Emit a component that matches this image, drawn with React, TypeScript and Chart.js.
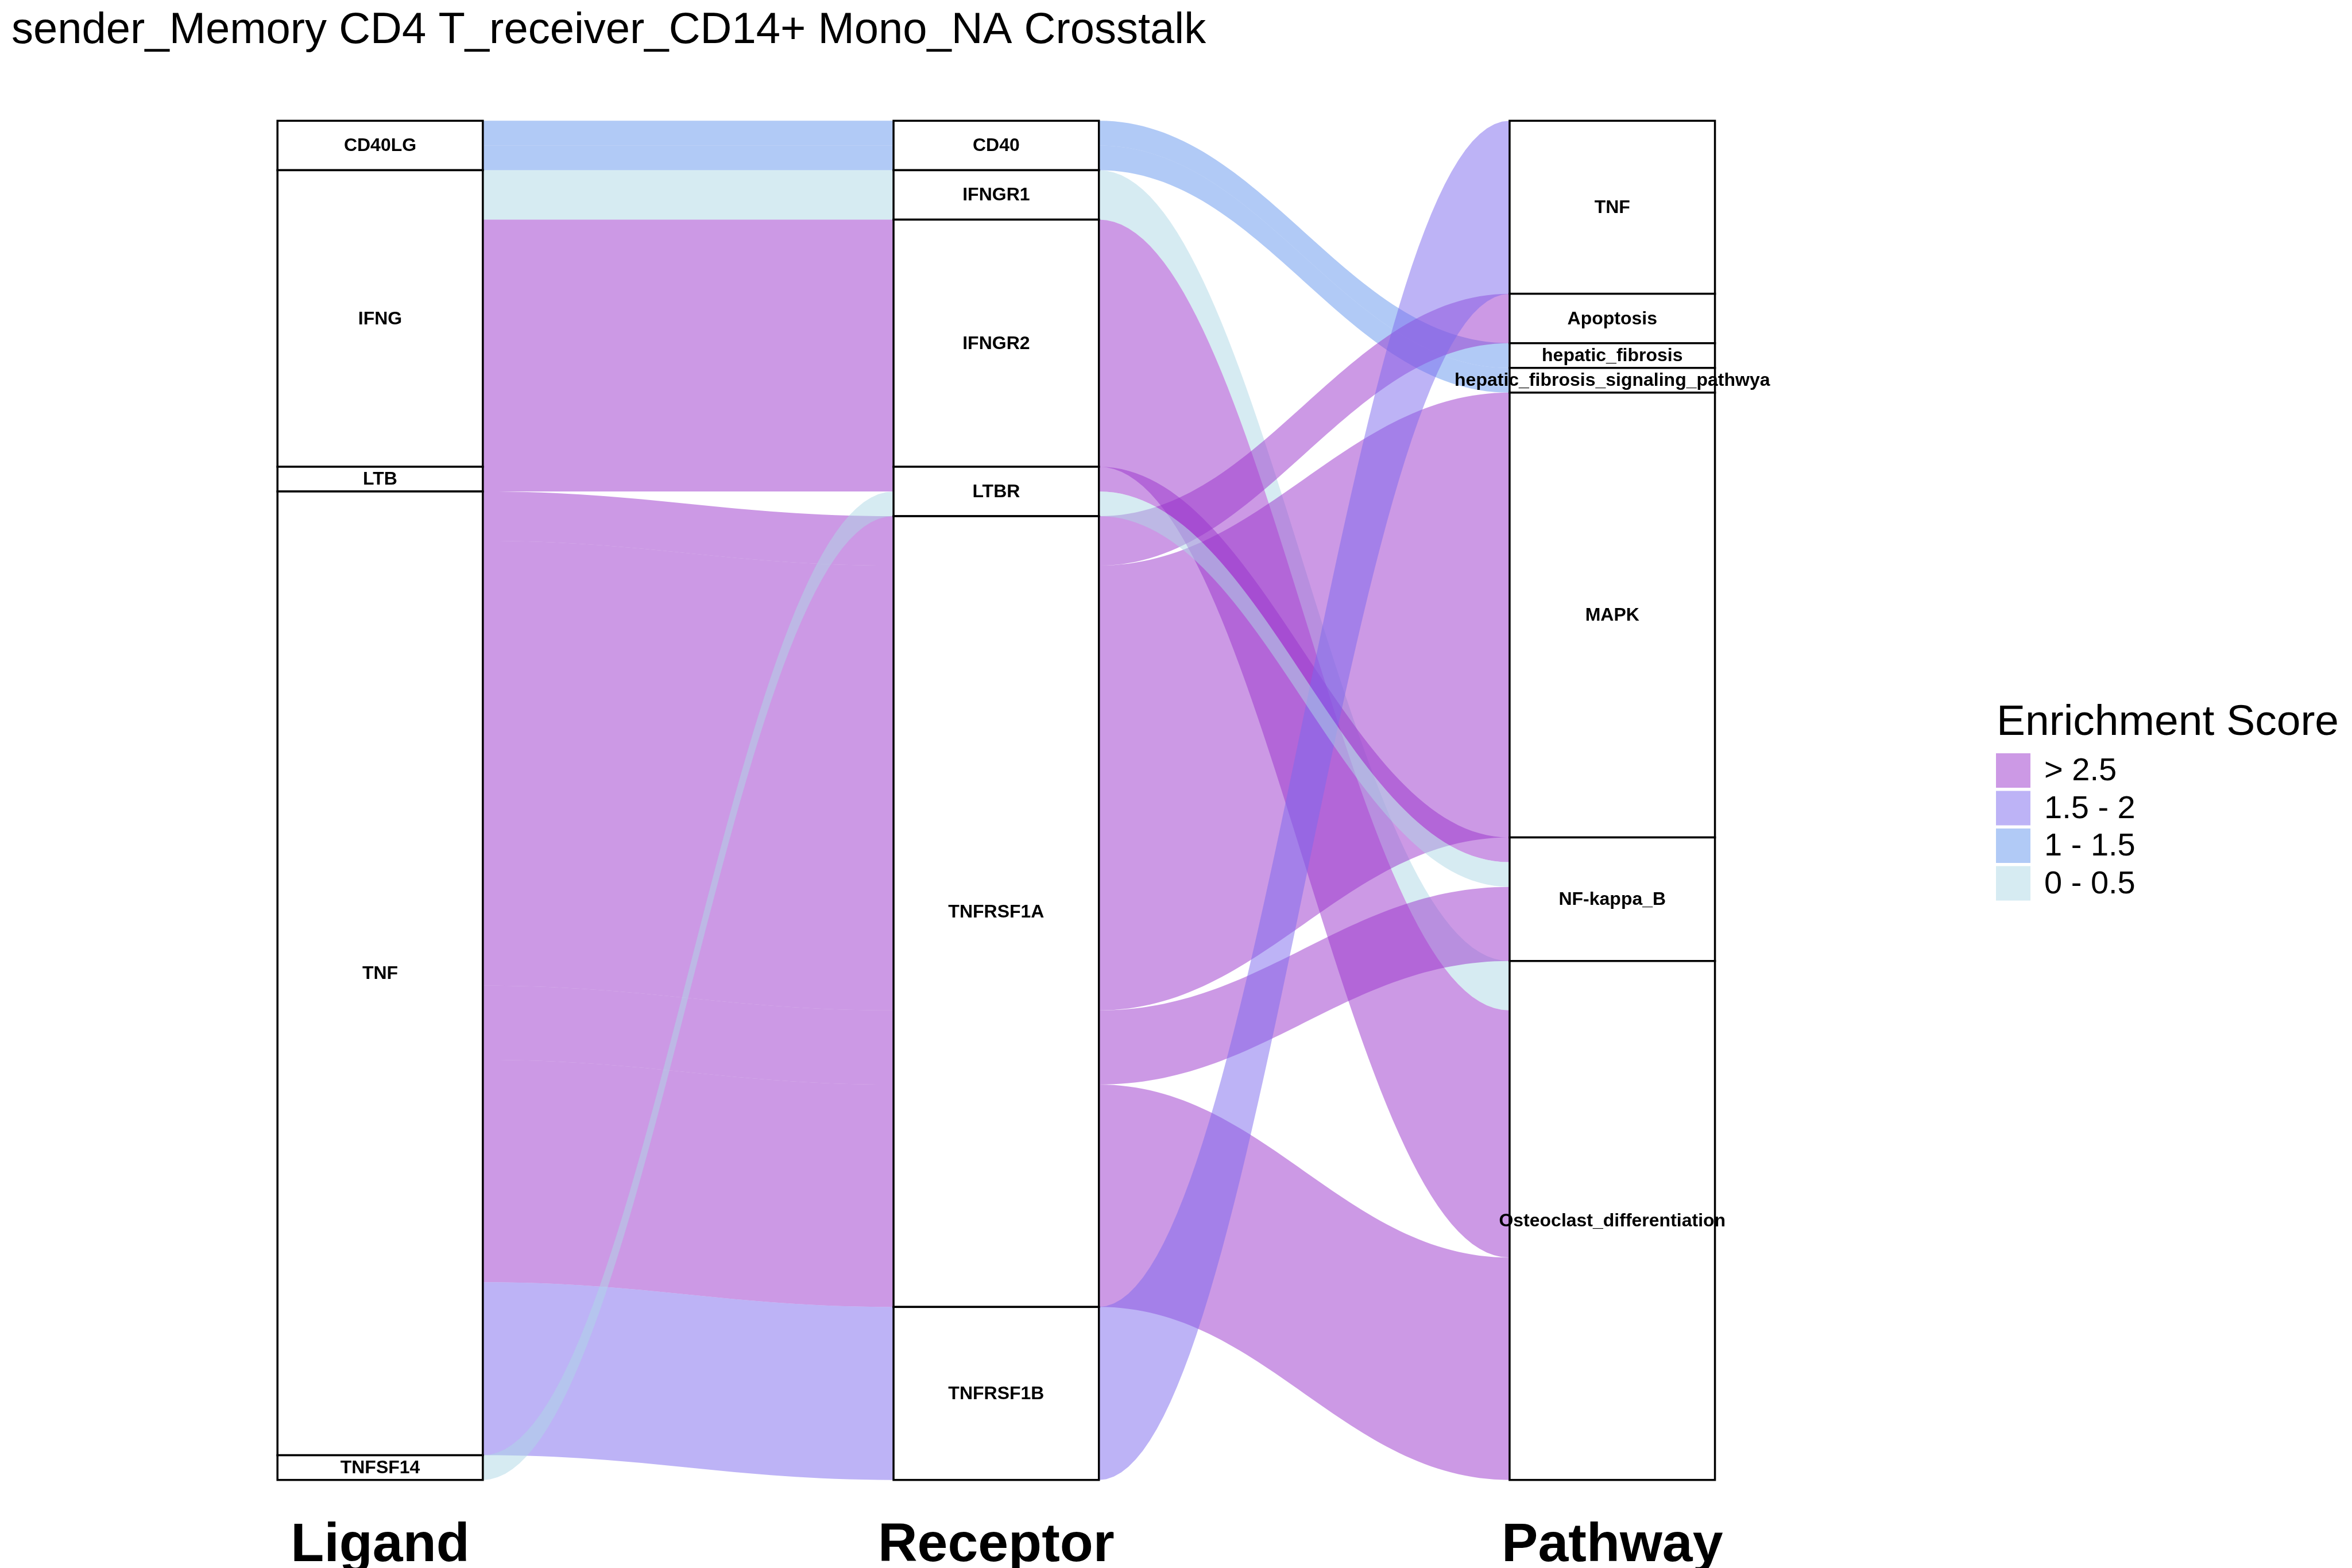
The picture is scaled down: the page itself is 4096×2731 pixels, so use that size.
import React, { useEffect, useRef } from "react";
import { Chart, registerables } from "chart.js";

Chart.register(...registerables);

const W = 4096;
const H = 2731;

const titleText = "sender_Memory CD4 T_receiver_CD14+ Mono_NA Crosstalk";
const axisLabels = ["Ligand", "Receptor", "Pathway"];
const legendTitle = "Enrichment Score";

const ligands = ["CD40LG", "IFNG", "LTB", "TNF", "TNFSF14"];
const receptors = ["CD40", "IFNGR1", "IFNGR2", "LTBR", "TNFRSF1A", "TNFRSF1B"];
const pathways = [
  "TNF",
  "Apoptosis",
  "hepatic_fibrosis",
  "hepatic_fibrosis_signaling_pathwya",
  "MAPK",
  "NF-kappa_B",
  "Osteoclast_differentiation",
];

const flowLigand = ["CD40LG", "CD40LG", "IFNG", "IFNG", "LTB", "TNF", "TNF", "TNF", "TNF", "TNF", "TNFSF14"];
const flowReceptor = ["CD40", "CD40", "IFNGR1", "IFNGR2", "LTBR", "TNFRSF1A", "TNFRSF1A", "TNFRSF1A", "TNFRSF1A", "TNFRSF1B", "LTBR"];
const flowPathway = [
  "hepatic_fibrosis",
  "hepatic_fibrosis_signaling_pathwya",
  "Osteoclast_differentiation",
  "Osteoclast_differentiation",
  "NF-kappa_B",
  "Apoptosis",
  "MAPK",
  "NF-kappa_B",
  "Osteoclast_differentiation",
  "TNF",
  "NF-kappa_B",
];
const flowWeight = [1, 1, 2, 10, 1, 2, 18, 3, 9, 7, 1];
const flowScore = ["1 - 1.5", "1 - 1.5", "0 - 0.5", "> 2.5", "> 2.5", "> 2.5", "> 2.5", "> 2.5", "> 2.5", "1.5 - 2", "0 - 0.5"];

const scoreLevels = ["> 2.5", "1.5 - 2", "1 - 1.5", "0 - 0.5"];
const scoreColors = [
  "rgba(153,51,204,0.5)",
  "rgba(123,104,238,0.5)",
  "rgba(100,149,237,0.5)",
  "rgba(173,216,230,0.5)",
];

const axesLevels = [ligands, receptors, pathways];
const axesValues = [flowLigand, flowReceptor, flowPathway];
const STRATUM_W = 1 / 3;
const KNOT = 0.4;

const total = flowWeight.reduce((a, b) => a + b, 0);

function stackAxis(k: number) {
  const n = flowWeight.length;
  const order = [k, ...[0, 1, 2].filter((j) => j !== k).sort((a, b) => Math.abs(a - k) - Math.abs(b - k))];
  const idx = Array.from({ length: n }, (_, i) => i);
  const key = (i: number) => order.map((j) => axesLevels[j].indexOf(axesValues[j][i]));
  idx.sort((a, b) => {
    const ka = key(a), kb = key(b);
    for (let t = 0; t < ka.length; t++) if (ka[t] !== kb[t]) return ka[t] - kb[t];
    return a - b;
  });
  const start: number[] = new Array(n);
  let acc = 0;
  for (const i of idx) {
    start[i] = acc;
    acc += flowWeight[i];
  }
  const strata = axesLevels[k].map((lv) => {
    const rows = idx.filter((i) => axesValues[k][i] === lv);
    const s = Math.min(...rows.map((i) => start[i]));
    const e = Math.max(...rows.map((i) => start[i] + flowWeight[i]));
    return { name: lv, s, e };
  });
  return { start, strata };
}

const sankeyPlugin = {
  id: "sankeyDraw",
  beforeDraw(chart: any) {
    const ctx = chart.ctx;
    ctx.save();
    ctx.fillStyle = "#ffffff";
    ctx.fillRect(0, 0, chart.width, chart.height);
    ctx.restore();
  },
  afterDatasetsDraw(chart: any) {
    const ctx = chart.ctx;
    const xs = chart.scales.x;
    const ys = chart.scales.y;
    const stacks = [0, 1, 2].map((k) => stackAxis(k));

    // flows
    ctx.save();
    for (let i = 0; i < flowWeight.length; i++) {
      ctx.fillStyle = scoreColors[scoreLevels.indexOf(flowScore[i])];
      for (let a = 0; a < 2; a++) {
        const xa = xs.getPixelForValue(a + 1 + STRATUM_W / 2);
        const xb = xs.getPixelForValue(a + 2 - STRATUM_W / 2);
        const dx = xb - xa;
        const t0 = ys.getPixelForValue(stacks[a].start[i]);
        const b0 = ys.getPixelForValue(stacks[a].start[i] + flowWeight[i]);
        const t1 = ys.getPixelForValue(stacks[a + 1].start[i]);
        const b1 = ys.getPixelForValue(stacks[a + 1].start[i] + flowWeight[i]);
        ctx.beginPath();
        ctx.moveTo(xa, t0);
        ctx.bezierCurveTo(xa + KNOT * dx, t0, xb - KNOT * dx, t1, xb, t1);
        ctx.lineTo(xb, b1);
        ctx.bezierCurveTo(xb - KNOT * dx, b1, xa + KNOT * dx, b0, xa, b0);
        ctx.closePath();
        ctx.fill();
      }
    }
    ctx.restore();

    // strata
    ctx.save();
    ctx.lineWidth = 3.5;
    ctx.strokeStyle = "#000000";
    for (let k = 0; k < 3; k++) {
      const xl = xs.getPixelForValue(k + 1 - STRATUM_W / 2);
      const xr = xs.getPixelForValue(k + 1 + STRATUM_W / 2);
      for (const st of stacks[k].strata) {
        const yt = ys.getPixelForValue(st.s);
        const yb = ys.getPixelForValue(st.e);
        ctx.fillStyle = "#ffffff";
        ctx.fillRect(xl, yt, xr - xl, yb - yt);
        ctx.strokeRect(xl, yt, xr - xl, yb - yt);
      }
    }
    ctx.fillStyle = "#000000";
    ctx.font = "bold 32px 'Liberation Sans', Arial, sans-serif";
    ctx.textAlign = "center";
    ctx.textBaseline = "middle";
    for (let k = 0; k < 3; k++) {
      const xc = xs.getPixelForValue(k + 1);
      for (const st of stacks[k].strata) {
        const yc = ys.getPixelForValue((st.s + st.e) / 2);
        ctx.fillText(st.name, xc, yc + 1);
      }
    }

    // axis labels
    ctx.font = "bold 95px 'Liberation Sans', Arial, sans-serif";
    ctx.textBaseline = "alphabetic";
    for (let k = 0; k < 3; k++) {
      ctx.fillText(axisLabels[k], xs.getPixelForValue(k + 1), 2719);
    }

    // title
    ctx.textAlign = "left";
    ctx.font = "76px 'Liberation Sans', Arial, sans-serif";
    ctx.fillText(titleText, 20, 75);

    // legend
    ctx.font = "75px 'Liberation Sans', Arial, sans-serif";
    ctx.fillText(legendTitle, 3477, 1280);
    ctx.font = "56px 'Liberation Sans', Arial, sans-serif";
    ctx.textBaseline = "middle";
    for (let j = 0; j < scoreLevels.length; j++) {
      const top = 1312 + j * 65.5;
      ctx.fillStyle = "#ffffff";
      ctx.fillRect(3476, top, 60, 60);
      ctx.fillStyle = scoreColors[j];
      ctx.fillRect(3476, top, 60, 60);
      ctx.fillStyle = "#000000";
      ctx.fillText(scoreLevels[j], 3560, top + 32);
    }
    ctx.restore();
  },
};

export default function App() {
  const ref = useRef<HTMLCanvasElement | null>(null);
  useEffect(() => {
    const canvas = ref.current;
    if (!canvas) return;
    const pad = total * 0.05;
    const chart = new Chart(canvas, {
      type: "scatter",
      data: { datasets: [{ data: [], pointRadius: 0 }] },
      options: {
        animation: false,
        responsive: false,
        devicePixelRatio: 1,
        layout: { padding: { left: 18.3, right: W - 3451.5, top: 92, bottom: H - 2696 } },
        scales: {
          x: { type: "linear", min: 0.4, max: 3.6, display: false },
          y: { type: "linear", min: -pad, max: total + pad, reverse: true, display: false },
        },
        plugins: {
          legend: { display: false },
          title: { display: false },
          tooltip: { enabled: false },
        },
      },
      plugins: [sankeyPlugin],
    } as any);
    return () => chart.destroy();
  }, []);
  return (
    <div style={{ position: "absolute", left: 0, top: 0, width: W, height: H, background: "#fff" }}>
      <canvas ref={ref} width={W} height={H} style={{ width: W, height: H, display: "block" }} />
    </div>
  );
}
